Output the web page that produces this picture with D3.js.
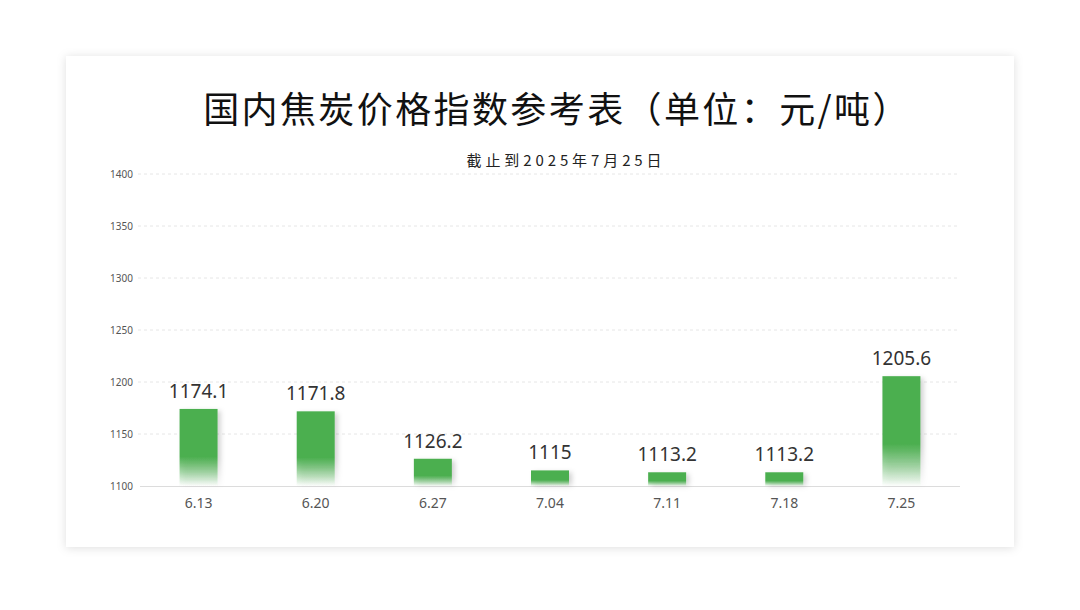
<!DOCTYPE html>
<html><head><meta charset="utf-8">
<script src="https://cdn.jsdelivr.net/npm/d3@7/dist/d3.min.js"></script>
<style>
html,body{margin:0;padding:0;background:#fff;}
svg{display:block;}
</style></head>
<body>
<svg id="chart" width="1080" height="610"></svg>
<script>
const categories = ["6.13","6.20","6.27","7.04","7.11","7.18","7.25"];
const values = [1174.1, 1171.8, 1126.2, 1115, 1113.2, 1113.2, 1205.6];
const valueLabels = ["1174.1","1171.8","1126.2","1115","1113.2","1113.2","1205.6"];
const yTicks = [1100,1150,1200,1250,1300,1350,1400];
const titleText = "国内焦炭价格指数参考表（单位：元/吨）";
const subtitleText = "截止到2025年7月25日";

const svg = d3.select("#chart");
const defs = svg.append("defs");

const cardShadow = defs.append("filter").attr("id","cardShadow")
  .attr("x","-5%").attr("y","-5%").attr("width","110%").attr("height","110%");
cardShadow.append("feDropShadow").attr("dx",0).attr("dy",1).attr("stdDeviation",5)
  .attr("flood-color","#000").attr("flood-opacity",0.13);

const barShadow = defs.append("filter").attr("id","barShadow")
  .attr("x","-50%").attr("y","-50%").attr("width","200%").attr("height","200%");
barShadow.append("feDropShadow").attr("dx",3).attr("dy",2).attr("stdDeviation",2.5)
  .attr("flood-color","#000").attr("flood-opacity",0.18);

const grad = defs.append("linearGradient").attr("id","barGrad")
  .attr("x1",0).attr("y1",0).attr("x2",0).attr("y2",1);
grad.append("stop").attr("offset","0%").attr("stop-color","#4caf50").attr("stop-opacity",1);
grad.append("stop").attr("offset","62%").attr("stop-color","#4caf50").attr("stop-opacity",1);
grad.append("stop").attr("offset","100%").attr("stop-color","#4caf50").attr("stop-opacity",0);

// card
svg.append("rect").attr("x",66).attr("y",56).attr("width",948).attr("height",491)
  .attr("fill","#fff").attr("filter","url(#cardShadow)");

// title
svg.append("text").attr("x",557).attr("y",123).attr("text-anchor","middle")
  .attr("font-family","'Noto Sans CJK SC','Noto Sans',sans-serif")
  .attr("font-size",36).attr("letter-spacing",2.4).attr("fill","#111")
  .text(titleText);

svg.append("text").attr("x",566).attr("y",166).attr("text-anchor","middle")
  .attr("font-family","'Noto Sans CJK SC','Noto Sans',sans-serif")
  .attr("font-size",15).attr("letter-spacing",3.9).attr("fill","#222")
  .text(subtitleText);

const x = d3.scaleBand().domain(categories).range([140,960]).paddingInner(0).paddingOuter(0);
const y = d3.scaleLinear().domain([1100,1400]).range([486,174]);

// grid
svg.append("g").selectAll("line").data(yTicks.slice(1)).join("line")
  .attr("x1",138).attr("x2",958)
  .attr("y1",d=>y(d)).attr("y2",d=>y(d))
  .attr("stroke","#e6e6e6").attr("stroke-width",1).attr("stroke-dasharray","3,3");

// y axis labels
const yAxis = d3.axisLeft(y).tickValues(yTicks).tickFormat(d3.format("d")).tickSize(0).tickPadding(0);
const yg = svg.append("g").attr("transform","translate(133,0)").call(yAxis);
yg.select(".domain").remove();
yg.selectAll("text").attr("font-family","'Noto Sans',sans-serif").attr("font-size",10).attr("fill","#555");

// x axis
const xAxis = d3.axisBottom(x).tickSize(0).tickPadding(12);
const xg = svg.append("g").attr("transform","translate(0,486)").call(xAxis);
xg.select(".domain").attr("stroke","#dcdcdc").attr("d","M140,0.5H960");
xg.selectAll("text").attr("font-family","'Noto Sans',sans-serif").attr("font-size",14).attr("fill","#555");

// bars
const bw = 38;
svg.append("g").selectAll("rect").data(values).join("rect")
  .attr("x",(d,i)=>x(categories[i])+x.bandwidth()/2-bw/2)
  .attr("y",d=>y(d))
  .attr("width",bw)
  .attr("height",d=>y(1100)-y(d))
  .attr("fill","url(#barGrad)")
  .attr("filter","url(#barShadow)");

svg.append("g").selectAll("text").data(values).join("text")
  .attr("x",(d,i)=>x(categories[i])+x.bandwidth()/2)
  .attr("y",d=>y(d)-11)
  .attr("text-anchor","middle")
  .attr("font-family","'Noto Sans',sans-serif").attr("font-size",19).attr("fill","#333")
  .text((d,i)=>valueLabels[i]);
</script>
</body></html>
